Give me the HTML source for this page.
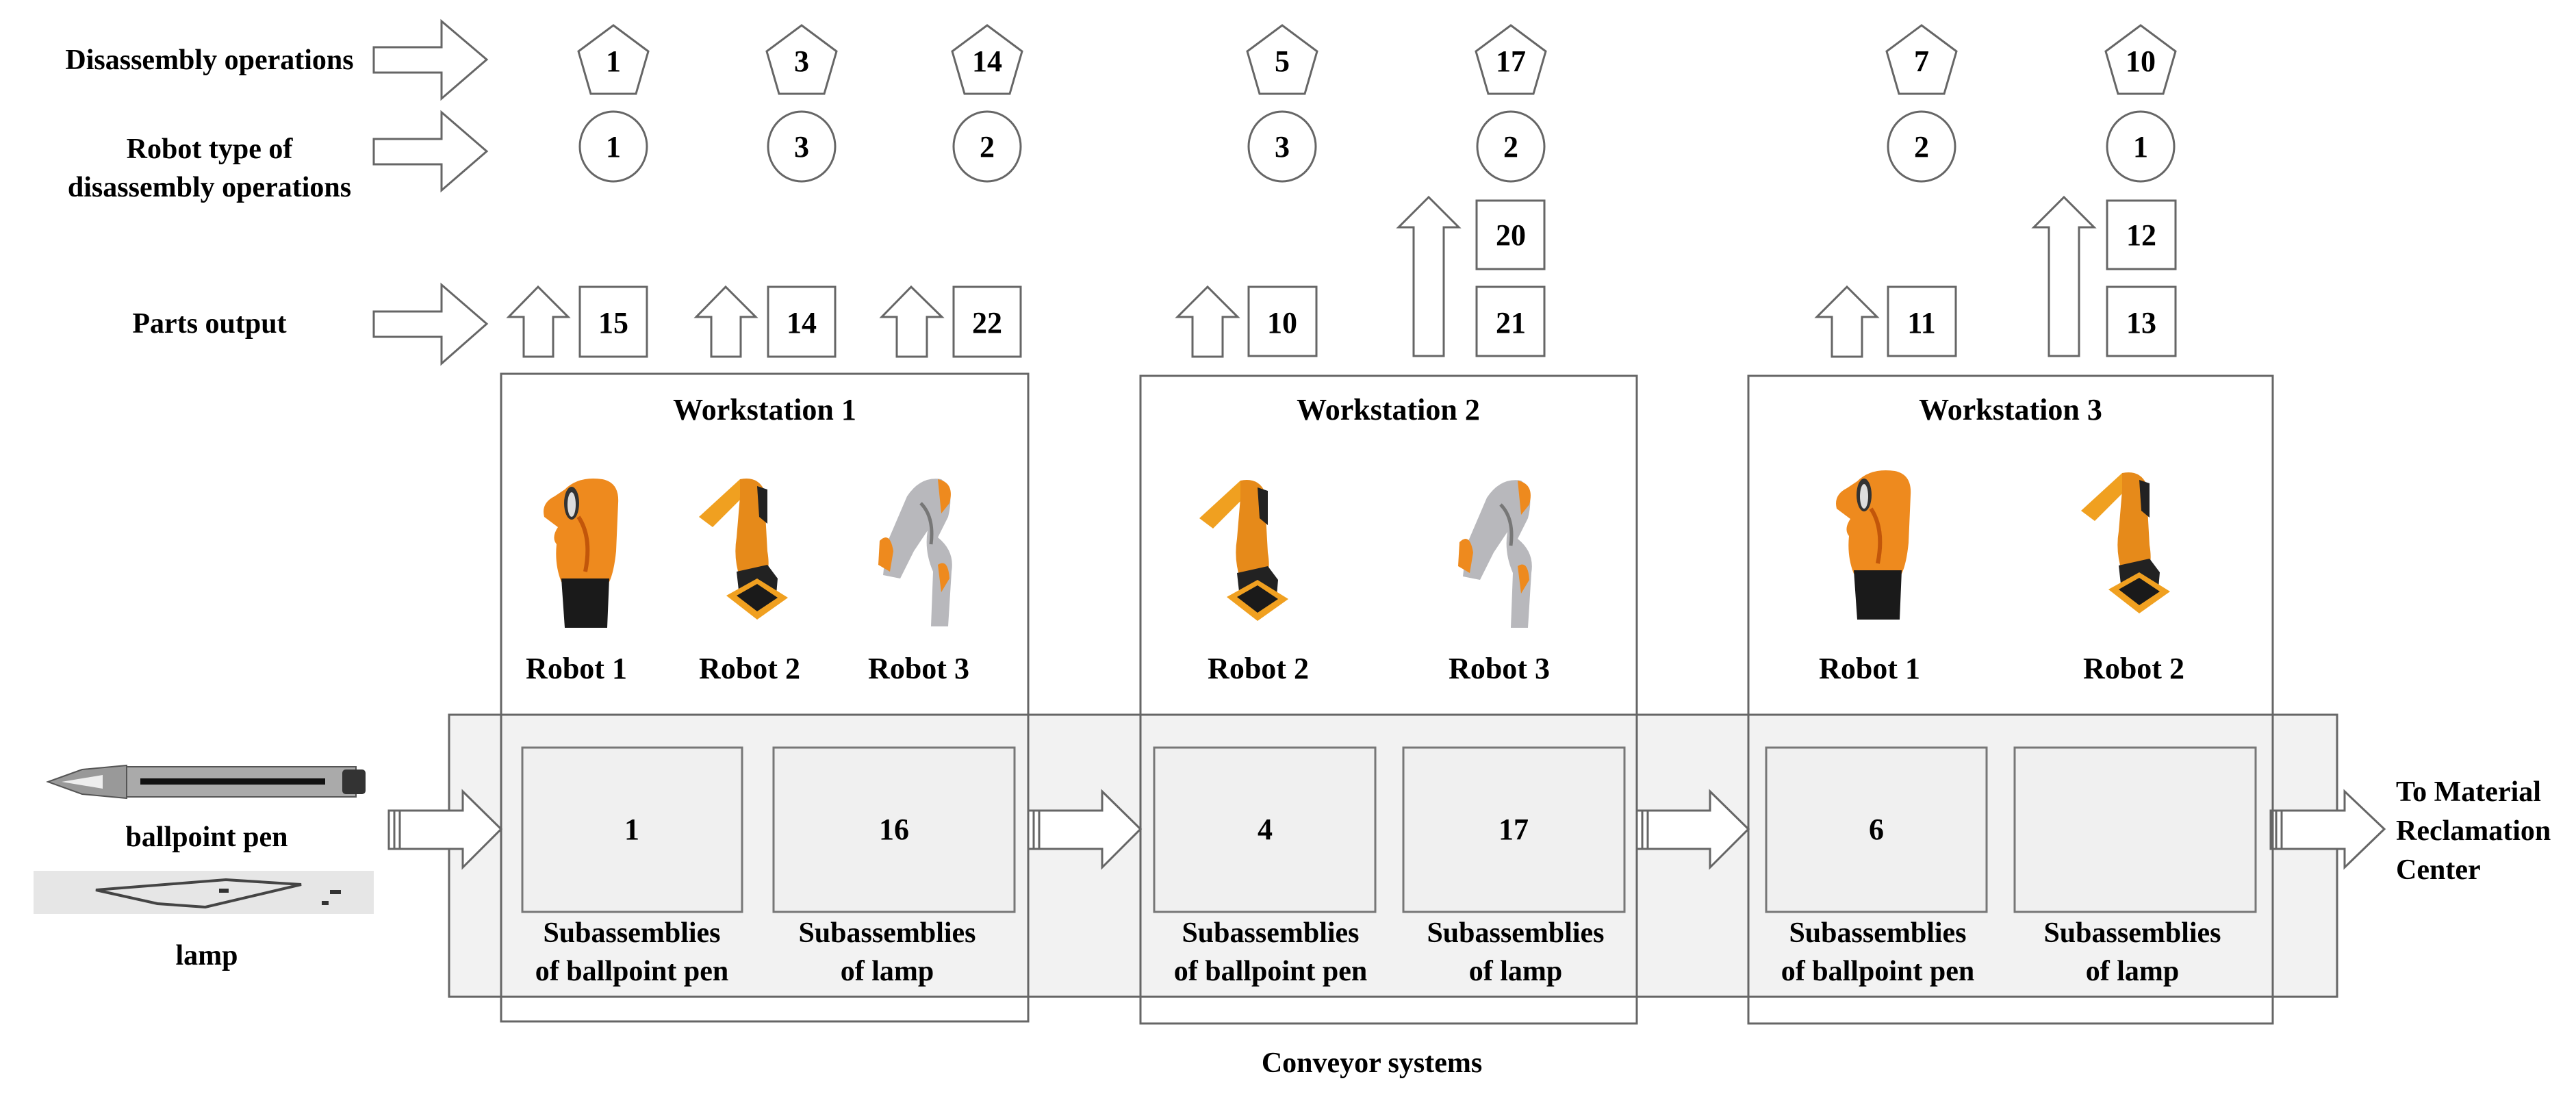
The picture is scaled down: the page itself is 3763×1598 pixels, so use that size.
<!DOCTYPE html>
<html><head><meta charset="utf-8"><style>
html,body{margin:0;padding:0;background:#fff;}
svg{display:block;}
text{font-family:"Liberation Serif",serif;font-weight:bold;fill:#000;}
</style></head><body>
<svg width="3763" height="1598" viewBox="0 0 3763 1598" xmlns="http://www.w3.org/2000/svg">
<defs>
<g id="r1">
 <path d="M40 20 Q60 0 95 5 Q120 10 118 40 L115 110 Q112 140 105 155 L35 155 Q25 130 28 100 Q20 90 30 75 L10 60 Q5 40 25 30 Z" fill="#ee8a1e"/>
 <ellipse cx="50" cy="40" rx="11" ry="24" fill="#333"/>
 <ellipse cx="50" cy="42" rx="6" ry="18" fill="#ddd"/>
 <path d="M35 150 L105 150 L102 222 L40 222 Z" fill="#1a1a1a"/>
 <path d="M60 60 Q80 90 70 140" stroke="#c2560a" stroke-width="6" fill="none"/>
</g>
<g id="r2">
 <path d="M0 60 L60 5 L80 15 L20 75 Z" fill="#f0a020"/>
 <path d="M60 5 Q85 0 95 20 L100 110 Q105 140 95 150 L60 150 Q50 120 55 90 L60 30 Z" fill="#e68a1a"/>
 <path d="M85 15 L100 20 L100 70 L88 60 Z" fill="#222"/>
 <path d="M55 140 L100 130 L115 150 L112 185 L60 185 Z" fill="#222"/>
 <path d="M40 175 L85 150 L130 178 L85 210 Z" fill="#f0a020"/>
 <path d="M55 175 L85 158 L115 178 L85 198 Z" fill="#1a1a1a"/>
</g>
<g id="r3">
 <path d="M50 30 Q70 0 100 5 Q120 20 110 60 L95 90 Q120 110 115 140 L110 220 L85 220 L88 140 Q75 110 80 80 L60 110 L40 150 L15 145 L20 100 Z" fill="#b8b8bc"/>
 <path d="M95 5 Q120 10 112 40 L100 55 Z" fill="#ee8a1e"/>
 <path d="M10 95 Q25 80 30 110 L25 140 L8 130 Z" fill="#ee8a1e"/>
 <path d="M95 130 Q110 120 112 150 L100 170 Z" fill="#ee8a1e"/>
 <path d="M70 40 Q90 60 85 100" stroke="#777" stroke-width="5" fill="none"/>
</g>
</defs>

<g stroke="#666" stroke-width="3" fill="#fff">
<!-- left big arrows -->
<path d="M546 69 L645 69 L645 31 L711 87 L645 144 L645 106 L546 106 Z"/>
<path d="M546 203 L645 203 L645 164 L711 221 L645 278 L645 240 L546 240 Z"/>
<path d="M546 455 L645 455 L645 416 L711 473 L645 531 L645 492 L546 492 Z"/>
</g>
<text x="306" y="101" font-size="42" text-anchor="middle">Disassembly operations</text>
<text x="306" y="231" font-size="42" text-anchor="middle">Robot type of</text>
<text x="306" y="287" font-size="42" text-anchor="middle">disassembly operations</text>
<text x="306" y="486" font-size="42" text-anchor="middle">Parts output</text>

<!-- pentagons and circles -->
<g stroke="#666" stroke-width="3" fill="#fff">
<g id="pents">
</g>
<polygon points="896,37 947,75 929,137 863,137 845,75"/>
<polygon points="1171,37 1222,75 1204,137 1138,137 1120,75"/>
<polygon points="1442,37 1493,75 1475,137 1409,137 1391,75"/>
<polygon points="1873,37 1924,75 1906,137 1840,137 1822,75"/>
<polygon points="2207,37 2258,75 2240,137 2174,137 2156,75"/>
<polygon points="2807,37 2858,75 2840,137 2774,137 2756,75"/>
<polygon points="3127,37 3178,75 3160,137 3094,137 3076,75"/>
<ellipse cx="896" cy="214" rx="49" ry="51"/>
<ellipse cx="1171" cy="214" rx="49" ry="51"/>
<ellipse cx="1442" cy="214" rx="49" ry="51"/>
<ellipse cx="1873" cy="214" rx="49" ry="51"/>
<ellipse cx="2207" cy="214" rx="49" ry="51"/>
<ellipse cx="2807" cy="214" rx="49" ry="51"/>
<ellipse cx="3127" cy="214" rx="49" ry="51"/>
</g>
<g font-size="44" text-anchor="middle">
<text x="896" y="104">1</text><text x="1171" y="104">3</text><text x="1442" y="104">14</text>
<text x="1873" y="104">5</text><text x="2207" y="104">17</text><text x="2807" y="104">7</text><text x="3127" y="104">10</text>
<text x="896" y="229">1</text><text x="1171" y="229">3</text><text x="1442" y="229">2</text>
<text x="1873" y="229">3</text><text x="2207" y="229">2</text><text x="2807" y="229">2</text><text x="3127" y="229">1</text>
</g>

<!-- parts output arrows and boxes -->
<g stroke="#666" stroke-width="3" fill="#fff">
<path d="M765 521 L765 463 L743 463 L786 419 L830 463 L808 463 L808 521 Z"/>
<path d="M1039 521 L1039 463 L1017 463 L1060 419 L1104 463 L1082 463 L1082 521 Z"/>
<path d="M1310 521 L1310 463 L1288 463 L1331 419 L1376 463 L1354 463 L1354 521 Z"/>
<path d="M1742 521 L1742 463 L1720 463 L1764 419 L1808 463 L1786 463 L1786 521 Z"/>
<path d="M2676 521 L2676 463 L2654 463 L2698 419 L2742 463 L2720 463 L2720 521 Z"/>
<path d="M2065 520 L2065 332 L2043 332 L2087 288 L2131 332 L2109 332 L2109 520 Z"/>
<path d="M2993 520 L2993 332 L2971 332 L3015 288 L3059 332 L3037 332 L3037 520 Z"/>
<rect x="847" y="419" width="98" height="102"/>
<rect x="1122" y="419" width="98" height="102"/>
<rect x="1393" y="419" width="98" height="102"/>
<rect x="1824" y="419" width="99" height="101"/>
<rect x="2157" y="293" width="99" height="100"/>
<rect x="2157" y="419" width="99" height="101"/>
<rect x="2758" y="419" width="99" height="101"/>
<rect x="3078" y="293" width="100" height="100"/>
<rect x="3078" y="419" width="100" height="101"/>
</g>
<g font-size="44" text-anchor="middle">
<text x="896" y="486">15</text><text x="1171" y="486">14</text><text x="1442" y="486">22</text>
<text x="1873" y="486">10</text><text x="2207" y="358">20</text><text x="2207" y="486">21</text>
<text x="2807" y="486">11</text><text x="3128" y="358">12</text><text x="3128" y="486">13</text>
</g>

<!-- conveyor -->
<rect x="656" y="1044" width="2758" height="412" fill="#f2f2f2" stroke="#666" stroke-width="3"/>
<g fill="#f0f0f0" stroke="#777" stroke-width="3">
<rect x="763" y="1092" width="321" height="240"/>
<rect x="1130" y="1092" width="352" height="240"/>
<rect x="1686" y="1092" width="323" height="240"/>
<rect x="2050" y="1092" width="323" height="240"/>
<rect x="2580" y="1092" width="322" height="240"/>
<rect x="2943" y="1092" width="352" height="240"/>
</g>
<!-- conveyor arrows -->
<g stroke="#666" stroke-width="3" fill="#fff">
<path d="M568 1184 L676 1184 L676 1156 L732 1211 L676 1267 L676 1240 L568 1240 Z"/>
<path d="M1502 1184 L1610 1184 L1610 1156 L1666 1211 L1610 1267 L1610 1240 L1502 1240 Z"/>
<path d="M2391 1184 L2498 1184 L2498 1156 L2554 1211 L2498 1267 L2498 1240 L2391 1240 Z"/>
<path d="M3317 1184 L3425 1184 L3425 1156 L3483 1211 L3425 1267 L3425 1240 L3317 1240 Z"/>
<path d="M576 1184 L576 1240 M584 1184 L584 1240 M1510 1184 L1510 1240 M1518 1184 L1518 1240 M2399 1184 L2399 1240 M2407 1184 L2407 1240 M3325 1184 L3325 1240 M3333 1184 L3333 1240" fill="none"/>
</g>

<!-- workstations -->
<g fill="none" stroke="#666" stroke-width="3">
<rect x="732" y="546" width="770" height="946"/>
<rect x="1666" y="549" width="725" height="946"/>
<rect x="2554" y="549" width="766" height="946"/>
</g>
<g font-size="44" text-anchor="middle">
<text x="1117" y="613">Workstation 1</text>
<text x="2028" y="613">Workstation 2</text>
<text x="2937" y="613">Workstation 3</text>
<text x="842" y="991">Robot 1</text><text x="1095" y="991">Robot 2</text><text x="1342" y="991">Robot 3</text>
<text x="1838" y="991">Robot 2</text><text x="2190" y="991">Robot 3</text>
<text x="2731" y="991">Robot 1</text><text x="3117" y="991">Robot 2</text>
<text x="923" y="1226">1</text><text x="1306" y="1226">16</text>
<text x="1848" y="1226">4</text><text x="2211" y="1226">17</text><text x="2741" y="1226">6</text>
</g>
<g font-size="42" text-anchor="middle">
<text x="923" y="1376">Subassemblies</text><text x="923" y="1432">of ballpoint pen</text>
<text x="1296" y="1376">Subassemblies</text><text x="1296" y="1432">of lamp</text>
<text x="1856" y="1376">Subassemblies</text><text x="1856" y="1432">of ballpoint pen</text>
<text x="2214" y="1376">Subassemblies</text><text x="2214" y="1432">of lamp</text>
<text x="2743" y="1376">Subassemblies</text><text x="2743" y="1432">of ballpoint pen</text>
<text x="3115" y="1376">Subassemblies</text><text x="3115" y="1432">of lamp</text>
<text x="2004" y="1566">Conveyor systems</text>
<text x="3500" y="1170" text-anchor="start">To Material</text>
<text x="3500" y="1227" text-anchor="start">Reclamation</text>
<text x="3500" y="1284" text-anchor="start">Center</text>
<text x="302" y="1236">ballpoint pen</text>
<text x="302" y="1409">lamp</text>
</g>

<!-- robots -->
<use href="#r1" transform="translate(785,695)"/>
<use href="#r2" transform="translate(1021,695)"/>
<use href="#r3" transform="translate(1275,695)"/>
<use href="#r2" transform="translate(1752,697)"/>
<use href="#r3" transform="translate(2122,697)"/>
<use href="#r1" transform="translate(2673,683)"/>
<use href="#r2" transform="translate(3040,686)"/>

<!-- ballpoint pen -->
<g>
<path d="M70 1142 L120 1124 L185 1118 L185 1166 L120 1160 Z" fill="#999" stroke="#555" stroke-width="2"/>
<rect x="185" y="1120" width="335" height="44" fill="#aaa" stroke="#555" stroke-width="2"/>
<rect x="205" y="1137" width="270" height="9" fill="#111"/>
<rect x="500" y="1124" width="34" height="36" rx="5" fill="#333"/>
<path d="M90 1142 L150 1132 L150 1152 Z" fill="#eee"/>
</g>
<!-- lamp image -->
<rect x="49" y="1272" width="497" height="63" fill="#e6e6e6"/>
<path d="M140 1300 L330 1285 L440 1292 L300 1325 L230 1320 Z" fill="none" stroke="#444" stroke-width="4"/>
<rect x="320" y="1298" width="14" height="6" fill="#333"/>
<rect x="482" y="1300" width="16" height="6" fill="#333"/>
<rect x="470" y="1316" width="10" height="6" fill="#333"/>
</svg>
</body></html>
